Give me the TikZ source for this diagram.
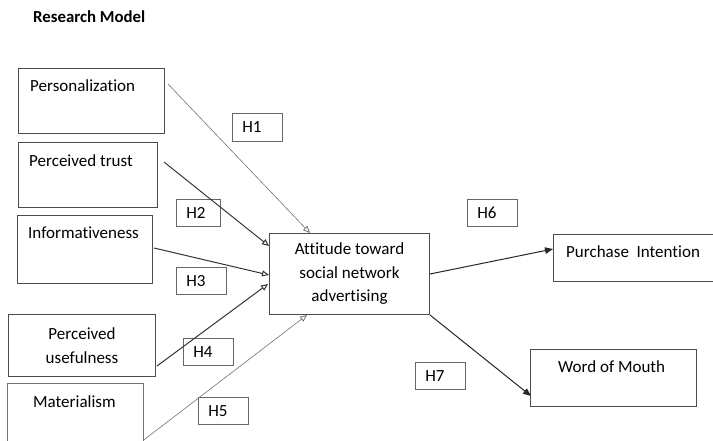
\documentclass[tikz,border=0pt]{standalone}
\usepackage{fontspec}
\setmainfont[Ligatures=NoCommon]{Carlito}
\usetikzlibrary{calc,arrows.meta}

\tikzset{
  box/.style={draw=black!70, line width=1pt, anchor=north west, inner sep=0pt},
  hyp/.style={draw=black!60, line width=0.8pt, anchor=north west, minimum height=27pt,
    inner xsep=10pt, inner ysep=0pt, text width=30pt, align=left},
  lbl/.style={anchor=base west, inner sep=0pt},
  thinarr/.style={draw=black!55, line width=0.6pt, -{Triangle[open, length=7pt, width=6pt, line width=0.8pt]}},
  darkarr/.style={draw=black!80, line width=1pt, -{Triangle[open, length=7pt, width=6pt]}},
  outarr/.style={draw=black!85, line width=1pt, -{Triangle[length=8pt, width=6.5pt]}},
}

\begin{document}
\begin{tikzpicture}[x=1pt, y=1pt, font=\fontsize{17pt}{23.5pt}\selectfont]
    \useasboundingbox (0,0) rectangle (713,-440);

    \node[lbl, font=\fontsize{16.8pt}{19pt}\selectfont\bfseries] (title) at (33,-22) {Research Model};

    % antecedents
    \node[box, minimum width=146pt, minimum height=65pt] (pers) at (18,-68) {};
    \node[box, minimum width=139pt, minimum height=65pt] (trust) at (18,-142) {};
    \node[box, minimum width=135pt, minimum height=68pt] (info) at (17,-215) {};
    \node[box, minimum width=147pt, minimum height=62pt, align=center] (useful) at (8,-314)
        {Perceived\\usefulness};
    \node[box, draw=black!55, line width=0.7pt, minimum width=136pt, minimum height=75pt] (mater) at (7,-383) {};

    \node[lbl] (perst) at (30,-91) {Personalization};
    \node[lbl] (trustt) at (29,-166) {Perceived trust};
    \node[lbl] (infot) at (28,-238) {Informativeness};
    \node[lbl] (matert) at (33,-407) {Materialism};

    % mediator and outcomes
    \node[box, minimum width=160pt, minimum height=81pt, align=center] (att) at (269,-233)
        {Attitude toward\\social network\\advertising};
    \node[box, minimum width=170pt, minimum height=47pt] (pi) at (553,-234) {};
    \node[box, minimum width=166pt, minimum height=57pt] (wom) at (530,-349) {};

    \node[lbl] (pit) at (566,-257) {Purchase\ \ Intention};
    \node[lbl] (womt) at (558,-372) {Word of Mouth};

    % hypotheses
    \node[hyp, minimum height=28pt] (h1) at (232,-113) {H1};
    \node[hyp, text width=24pt] (h2) at (176,-199) {H2};
    \node[hyp] (h3) at (176,-267) {H3};
    \node[hyp] (h4) at (183,-338) {H4};
    \node[hyp] (h5) at (198,-397) {H5};
    \node[hyp] (h6) at (467,-199) {H6};
    \node[hyp] (h7) at (415,-362) {H7};

    % paths
    \draw[thinarr] ($(pers.north east)+(3,-16)$) -- ($(att.north west)+(41,0)$);
    \draw[darkarr] ($(trust.north east)+(6,-20)$) -- ($(att.north west)+(0,-13)$);
    \draw[darkarr] ($(info.north east)+(1,-33)$) -- ($(att.north west)+(0,-42)$);
    \draw[darkarr] ($(useful.south east)+(1,11)$) -- ($(att.north west)+(-1,-51)$);
    \draw[thinarr] ($(mater.north east)+(0,-57)$) -- ($(att.south west)+(38,0)$);

    \draw[outarr] (att.east) -- ($(pi.north west)+(0,-15)$);
    \draw[outarr] (att.south east) -- ($(wom.north west)+(1,-47)$);
\end{tikzpicture}
\end{document}
